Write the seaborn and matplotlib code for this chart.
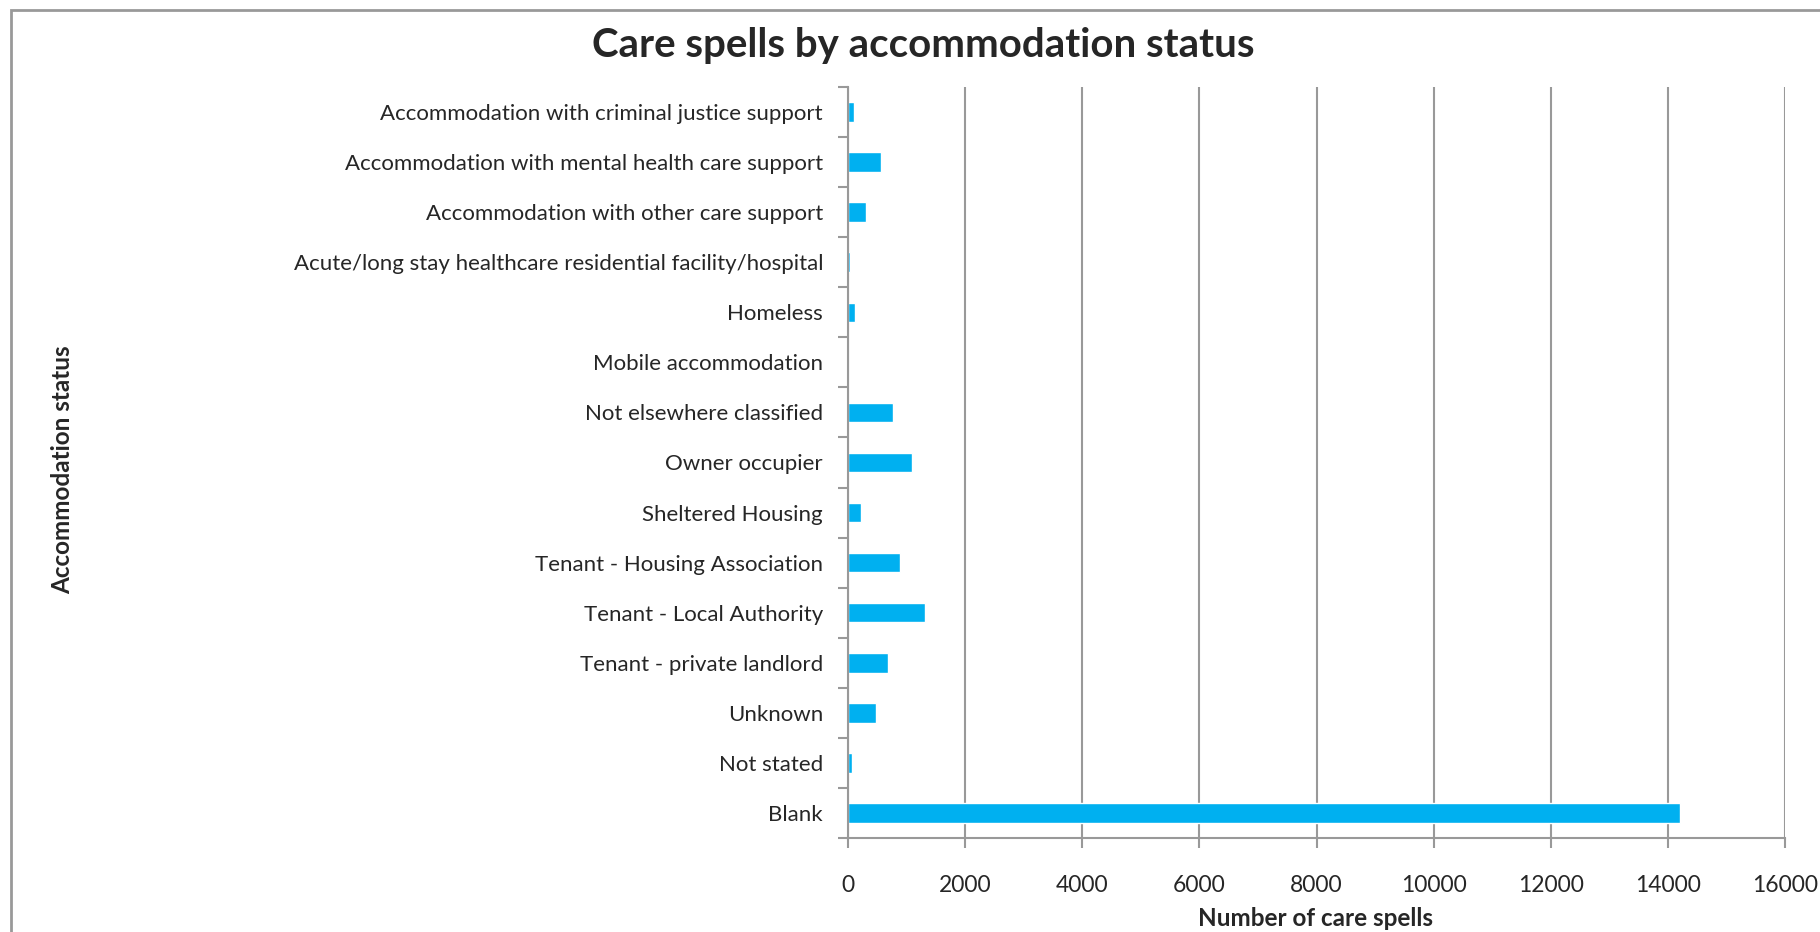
import numpy as np
import pandas as pd
import matplotlib
matplotlib.use("Agg")
import matplotlib.pyplot as plt
from matplotlib.patches import Rectangle
import seaborn as sns

# data
categories = [
    "Accommodation with criminal justice support",
    "Accommodation with mental health care support",
    "Accommodation with other care support",
    "Acute/long stay healthcare residential facility/hospital",
    "Homeless",
    "Mobile accommodation",
    "Not elsewhere classified",
    "Owner occupier",
    "Sheltered Housing",
    "Tenant - Housing Association",
    "Tenant - Local Authority",
    "Tenant - private landlord",
    "Unknown",
    "Not stated",
    "Blank",
]
care_spells = [110, 560, 300, 40, 115, 0, 770, 1090, 222, 880, 1307, 680, 486, 69, 14205]
x_ticks = [0, 2000, 4000, 6000, 8000, 10000, 12000, 14000, 16000]

BAR = "#00B0F0"
GREY = "#999999"

sns.set_style("white")
plt.rcParams["font.family"] = ["Lato", "DejaVu Sans"]

df = pd.DataFrame({"status": categories, "spells": care_spells})

W, H = 1820, 932
fig = plt.figure(figsize=(W / 100, H / 100), dpi=100)
ax = fig.add_axes([848 / W, 1 - 838 / H, (1785 - 848) / W, (838 - 87) / H])

sns.barplot(data=df, x="spells", y="status", orient="h", color=BAR,
            width=0.39, saturation=1, ax=ax)

ax.set_xlim(0, 16000)
ax.set_ylim(len(categories) - 0.5, -0.5)
ax.set_xticks(x_ticks)
ax.set_xticklabels([str(t) for t in x_ticks], fontsize=16.5)
ax.xaxis.grid(True, color=GREY, linewidth=1.5)
ax.set_axisbelow(True)

# category ticks sit between the bars, like Excel
ax.set_yticks(np.arange(len(categories)))
ax.set_yticklabels(categories, fontsize=16)
ax.set_yticks(np.arange(-0.5, len(categories)), minor=True)
ax.tick_params(axis="y", which="major", length=0, pad=18)
ax.tick_params(axis="y", which="minor", length=7, width=1.5, color=GREY, left=True)
ax.tick_params(axis="x", which="major", length=7, width=1.5, color=GREY,
               bottom=True, pad=20)

for side in ["top", "right"]:
    ax.spines[side].set_visible(False)
for side in ["left", "bottom"]:
    ax.spines[side].set_color(GREY)
    ax.spines[side].set_linewidth(1.5)

ax.set_xlabel("")
ax.set_ylabel("")
fig.text(1316 / W, 1 - 919 / H, "Number of care spells", ha="center", va="center",
         fontsize=17.5, fontweight="bold")
fig.text(63 / W, 1 - 470 / H, "Accommodation status", rotation=90,
         ha="center", va="center", fontsize=17.5, fontweight="bold")
fig.text(923 / W, 1 - 46 / H, "Care spells by accommodation status",
         ha="center", va="center", fontsize=29, fontweight="bold")

# outer chart-area frame (right and bottom edges run off the image)
fig.patches.append(Rectangle((11 / W, -0.1), 1.2, 1 - 10 / H + 0.1,
                             transform=fig.transFigure, fill=False,
                             edgecolor=GREY, linewidth=2))

fig.savefig("out.png", dpi=100)
